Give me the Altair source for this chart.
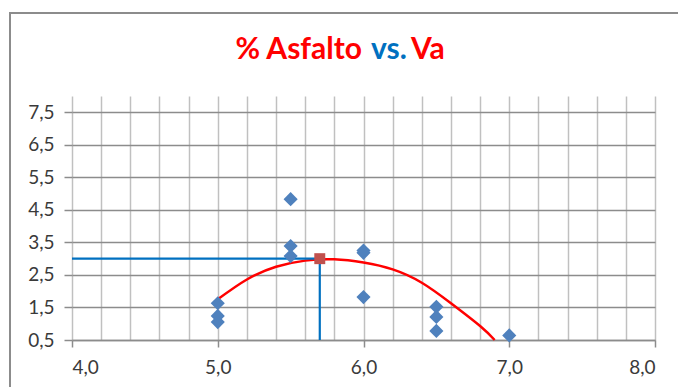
import altair as alt
import pandas as pd

# Measured samples: asphalt content (%) against air voids Va (%)
ASFALTO = [5.0, 5.0, 5.0, 5.5, 5.5, 5.5, 6.0, 6.0, 6.0, 6.5, 6.5, 6.5, 7.0]
VA = [1.63, 1.24, 1.05, 4.83, 3.39, 3.08, 3.25, 3.18, 1.82, 1.52, 1.21, 0.78, 0.64]

# Trend curve read at regular asphalt contents
CURVE_X = [5.0, 5.2, 5.4, 5.6, 5.8, 6.0, 6.2, 6.4, 6.6, 6.8, 6.9]
CURVE_Y = [1.75, 2.36, 2.75, 2.94, 2.98, 2.88, 2.67, 2.26, 1.63, 0.93, 0.5]

# Selected design point
OPT_X = [5.7]
OPT_Y = [3.0]

# Axis ranges and ticks
X_MIN, X_MAX = 4.0, 8.0
Y_MIN, Y_MAX = 0.5, 8.0
X_LABELS = [4.0, 5.0, 6.0, 7.0, 8.0]
X_GRID = [round(4.0 + 0.2 * i, 1) for i in range(21)]
Y_LABELS = [0.5, 1.5, 2.5, 3.5, 4.5, 5.5, 6.5, 7.5]

TITLE_PARTS = ["% Asfalto", "vs.", "Va"]
TITLE_COLORS = ["#FF0000", "#0070C0", "#FF0000"]

FONT = "Lato"
COMMA = "replace(format(datum.value, '.1f'), '.', ',')"

pts = pd.DataFrame({"x": ASFALTO, "y": VA})
curve = pd.DataFrame({"x": CURVE_X, "y": CURVE_Y})
opt = pd.DataFrame({"x": OPT_X, "y": OPT_Y})
guide_h = pd.DataFrame({"x": [X_MIN], "x2": OPT_X, "y": OPT_Y})
guide_v = pd.DataFrame({"x": OPT_X, "y": [Y_MIN], "y2": OPT_Y})

xs = alt.Scale(domain=[X_MIN, X_MAX], nice=False, zero=False)
ys = alt.Scale(domain=[Y_MIN, Y_MAX], nice=False, zero=False)

grid_x_axis = alt.Axis(orient="top", values=X_GRID, grid=True, gridColor="#C0C0C0",
                       gridWidth=1.5, labels=False, ticks=False, domain=False, title=None)
label_x_axis = alt.Axis(orient="bottom", values=X_LABELS, grid=False, labelExpr=COMMA,
                        labelFont=FONT, labelFontSize=19, labelColor="#3A3A3A",
                        labelPadding=11, ticks=True, tickColor="#8C8C8C", tickSize=7,
                        tickWidth=1.5, domain=True, domainColor="#8C8C8C",
                        domainWidth=1.5, title=None)
y_axis = alt.Axis(orient="left", values=Y_LABELS, grid=True, gridColor="#8C8C8C",
                  gridWidth=1.5, labelExpr=COMMA, labelFont=FONT, labelFontSize=19,
                  labelColor="#3A3A3A", labelPadding=10, ticks=True,
                  tickColor="#8C8C8C", tickSize=8, tickWidth=1.5, domain=False,
                  title=None)

# Grid layer: carries the fine vertical grid and the value axis
grid = alt.Chart(pts).mark_point(opacity=0).encode(
    x=alt.X("x:Q", scale=xs, axis=grid_x_axis),
    y=alt.Y("y:Q", scale=ys, axis=y_axis),
)

trend = alt.Chart(curve).mark_line(color="#FF0000", strokeWidth=2.5, interpolate="natural").encode(
    x=alt.X("x:Q", scale=xs, axis=label_x_axis),
    y=alt.Y("y:Q", scale=ys, axis=None),
)

h_line = alt.Chart(guide_h).mark_rule(color="#0070C0", strokeWidth=2.2).encode(
    x=alt.X("x:Q", scale=xs, axis=None), x2="x2:Q",
    y=alt.Y("y:Q", scale=ys, axis=None),
)
v_line = alt.Chart(guide_v).mark_rule(color="#0070C0", strokeWidth=2.2).encode(
    x=alt.X("x:Q", scale=xs, axis=None),
    y=alt.Y("y:Q", scale=ys, axis=None), y2="y2:Q",
)

points = alt.Chart(pts).mark_point(
    shape="diamond", filled=True, size=200, color="#4F81BD", opacity=1
).encode(
    x=alt.X("x:Q", scale=xs, axis=None),
    y=alt.Y("y:Q", scale=ys, axis=None),
)

design = alt.Chart(opt).mark_point(
    shape="square", filled=True, size=120, color="#C0504D", opacity=1
).encode(
    x=alt.X("x:Q", scale=xs, axis=None),
    y=alt.Y("y:Q", scale=ys, axis=None),
)

# Chart frame
frame = alt.Chart(pd.DataFrame({"k": [0]})).mark_rect(
    filled=False, stroke="#8C8C8C", strokeWidth=2
).encode(x=alt.value(-62), x2=alt.value(700), y=alt.value(-83), y2=alt.value(400))

# Two-colour title built from three text pieces
title_base = alt.Chart(pd.DataFrame({"k": [0]}))
t1 = title_base.mark_text(align="right", baseline="alphabetic", font=FONT, fontSize=30,
                          fontWeight="bold", color=TITLE_COLORS[0]).encode(
    x=alt.value(290), y=alt.value(-37), text=alt.value(TITLE_PARTS[0]))
t2 = title_base.mark_text(align="left", baseline="alphabetic", font=FONT, fontSize=30,
                          fontWeight="bold", color=TITLE_COLORS[1]).encode(
    x=alt.value(299), y=alt.value(-37), text=alt.value(TITLE_PARTS[1]))
t3 = title_base.mark_text(align="left", baseline="alphabetic", font=FONT, fontSize=30,
                          fontWeight="bold", color=TITLE_COLORS[2]).encode(
    x=alt.value(339), y=alt.value(-37), text=alt.value(TITLE_PARTS[2]))

chart = alt.layer(
    grid, trend, h_line, v_line, points, design, frame, t1, t2, t3
).resolve_axis(x="independent", y="independent").properties(
    width=583, height=244,
    padding={"left": 72, "top": 96, "right": 23, "bottom": 47},
    autosize=alt.AutoSizeParams(type="none"),
    background="white",
).configure_view(stroke=None)

chart.save("out.html", embed_options={"renderer": "svg", "actions": False})
